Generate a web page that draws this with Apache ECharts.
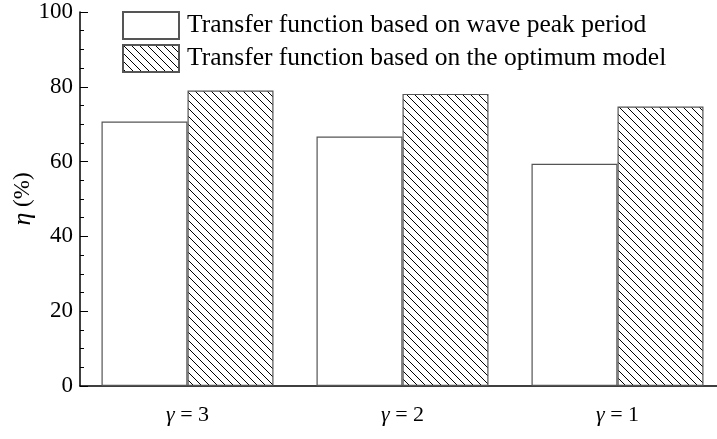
<!DOCTYPE html>
<html>
<head>
<meta charset="utf-8">
<script src="https://cdn.jsdelivr.net/npm/echarts@6/dist/echarts.min.js"></script>
<style>
  html, body { margin: 0; padding: 0; background: #fff; }
  #chart { width: 717px; height: 439px; }
</style>
</head>
<body>
<div id="chart"></div>
<script>
const categories = ['3', '2', '1'];
const seriesNames = [
  'Transfer function based on wave peak period',
  'Transfer function based on the optimum model'
];
const peakPeriod = [70.7, 66.7, 59.4];
const optimumModel = [79.0, 78.1, 74.7];
const yTicks = [0, 20, 40, 60, 80, 100];

const serif = 'Liberation Serif, Times New Roman, serif';

// diagonal hatch tile ("\" direction)
function hatch(size) {
  const c = document.createElement('canvas');
  c.width = size;
  c.height = size;
  const ctx = c.getContext('2d');
  ctx.fillStyle = '#fff';
  ctx.fillRect(0, 0, size, size);
  ctx.strokeStyle = '#000';
  ctx.lineWidth = 1;
  ctx.beginPath();
  ctx.moveTo(-1, -1); ctx.lineTo(size + 1, size + 1);
  ctx.moveTo(-1, size - 1); ctx.lineTo(1, size + 1);
  ctx.moveTo(size - 1, -1); ctx.lineTo(size + 1, 1);
  ctx.stroke();
  return c;
}

const chart = echarts.init(document.getElementById('chart'), null, { renderer: 'canvas' });

chart.setOption({
  animation: false,
  backgroundColor: '#fff',
  legend: {
    orient: 'vertical',
    left: 117,
    top: 6,
    icon: 'rect',
    itemWidth: 56,
    itemHeight: 27,
    itemGap: 4,
    textStyle: { fontFamily: serif, fontSize: 25.5, color: '#000', padding: [0, 0, 0, 3] },
    data: seriesNames
  },
  grid: { left: 80, width: 645, top: 12, bottom: 53, outerBoundsMode: 'none', containLabel: false },
  xAxis: {
    type: 'category',
    data: categories,
    axisTick: { show: false },
    axisLine: { lineStyle: { color: '#000', width: 1.5 } },
    axisLabel: {
      margin: 18,
      formatter: v => '{g|γ} = ' + v,
      fontFamily: serif,
      fontSize: 22,
      color: '#000',
      rich: { g: { fontFamily: serif, fontSize: 22, fontStyle: 'italic', color: '#000' } }
    }
  },
  yAxis: {
    type: 'value',
    min: yTicks[0],
    max: yTicks[yTicks.length - 1],
    interval: 20,
    name: '{e|η} (%)',
    nameLocation: 'middle',
    nameGap: 44,
    nameMoveOverlap: false,
    nameRotate: 90,
    nameTextStyle: {
      fontFamily: serif,
      fontSize: 23,
      color: '#000',
      rich: { e: { fontFamily: serif, fontSize: 26, fontStyle: 'italic', color: '#000' } }
    },
    splitLine: { show: false },
    axisLine: { show: true, lineStyle: { color: '#000', width: 1.5 } },
    axisTick: { show: true, inside: true, length: 8, lineStyle: { color: '#000' } },
    minorTick: { show: true, splitNumber: 4, length: 4, lineStyle: { color: '#000' } },
    axisLabel: { fontFamily: serif, fontSize: 23, color: '#000', margin: 7 }
  },
  series: [
    {
      name: seriesNames[0],
      type: 'bar',
      data: peakPeriod,
      barGap: '0%',
      barCategoryGap: '20%',
      itemStyle: { color: '#fff', borderColor: '#555', borderWidth: 1.2 }
    },
    {
      name: seriesNames[1],
      type: 'bar',
      data: optimumModel,
      barGap: '0%',
      barCategoryGap: '20%',
      itemStyle: {
        color: { image: hatch(8), repeat: 'repeat' },
        borderColor: '#555',
        borderWidth: 1.2
      }
    }
  ]
});
</script>
</body>
</html>
